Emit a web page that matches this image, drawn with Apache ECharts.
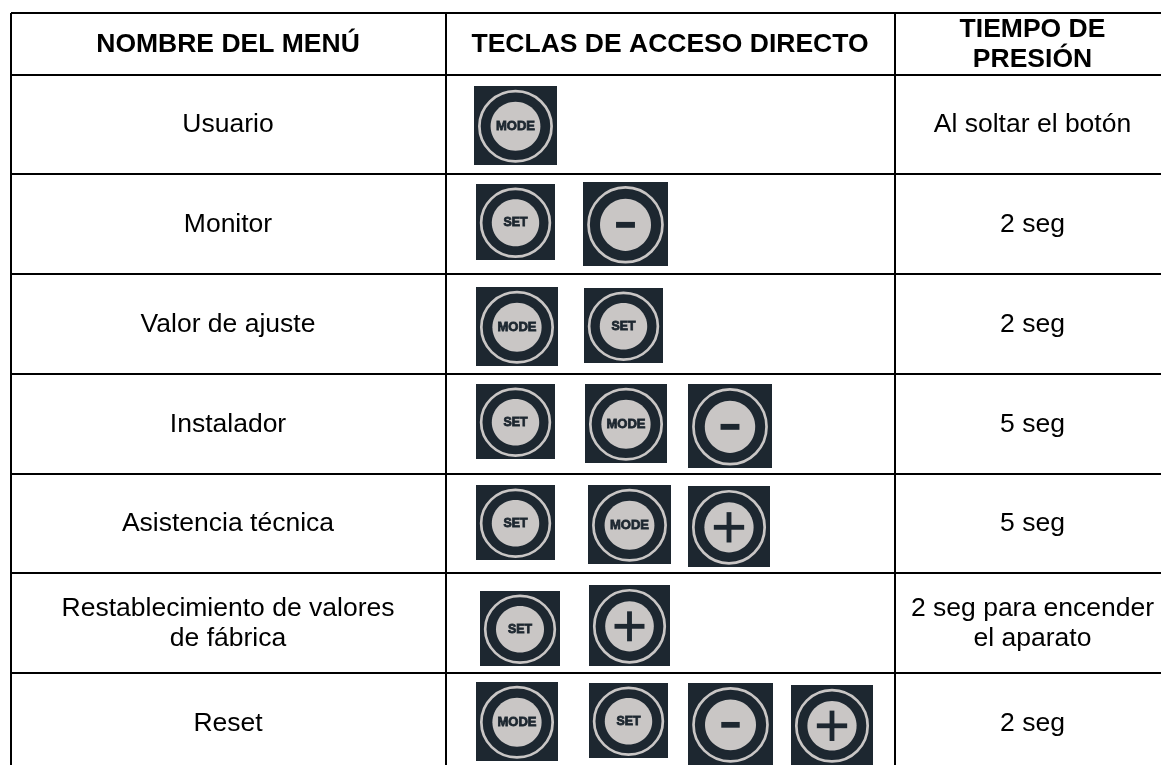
<!DOCTYPE html>
<html>
<head>
<meta charset="utf-8">
<style>html,body{margin:0;padding:0;background:#fff}#c{width:1161px;height:765px}</style>
<script src="https://cdn.jsdelivr.net/npm/echarts@6/dist/echarts.min.js"></script>
</head>
<body>
<div id="c"></div>
<script>
// ---- content ----
const headers = ['NOMBRE DEL MENÚ', 'TECLAS DE ACCESO DIRECTO', 'TIEMPO DE\nPRESIÓN'];
const menuNames = ['Usuario', 'Monitor', 'Valor de ajuste', 'Instalador', 'Asistencia técnica', 'Restablecimiento de valores\nde fábrica', 'Reset'];
const pressTimes = ['Al soltar el botón', '2 seg', '2 seg', '5 seg', '5 seg', '2 seg para encender\nel aparato', '2 seg'];
const keyCombos = [
  ['MODE'],
  ['SET', '-'],
  ['MODE', 'SET'],
  ['SET', 'MODE', '-'],
  ['SET', 'MODE', '+'],
  ['SET', '+'],
  ['MODE', 'SET', '-', '+']
];

// ---- layout (pixel scale of the axes; not data) ----
const rowLines = [13, 75, 174, 274, 374, 474, 573, 673];
const colLines = [11, 446, 895];
const colCentres = [228, 670, 1032.5];
const keyBoxes = [
  [[474, 86, 83, 79]],
  [[476, 184, 79, 76], [583, 182, 85, 84]],
  [[476, 287, 82, 79], [584, 288, 79, 75]],
  [[476, 384, 79, 75], [585, 384, 82, 79], [688, 384, 84, 84]],
  [[476, 485, 79, 75], [588, 485, 83, 79], [688, 486, 82, 81]],
  [[480, 591, 80, 75], [589, 585, 81, 81]],
  [[476, 682, 82, 79], [589, 683, 79, 75], [688, 683, 85, 82], [791, 685, 82, 80]]
];
const DARK = '#1d2730', LIGHT = '#c9c6c5', FONT = '"Liberation Sans", Arial, sans-serif';

// ---- data rows for the series ----
const textRows = [];
headers.forEach((t, c) => textRows.push([colCentres[c], (rowLines[0] + rowLines[1]) / 2, t, 'bold']));
menuNames.forEach((t, r) => textRows.push([colCentres[0], (rowLines[r + 1] + (rowLines[r + 2] || 773)) / 2, t, 'normal']));
pressTimes.forEach((t, r) => textRows.push([colCentres[2], (rowLines[r + 1] + (rowLines[r + 2] || 773)) / 2, t, 'normal']));

const keyRows = [];
keyCombos.forEach((combo, r) => combo.forEach((k, i) => keyRows.push([...keyBoxes[r][i], k])));

const ruleRows = [];
rowLines.forEach(y => ruleRows.push([11, y, 1161, y]));
colLines.forEach(x => ruleRows.push([x, 13, x, 765]));

function renderRule(p, api) {
  const a = api.coord([api.value(0), api.value(1)]);
  const b = api.coord([api.value(2), api.value(3)]);
  return { type: 'line', shape: { x1: a[0], y1: a[1], x2: b[0], y2: b[1] }, style: { stroke: '#000', lineWidth: 2 } };
}

function renderText(p, api) {
  const c = api.coord([textRows[p.dataIndex][0], textRows[p.dataIndex][1]]);
  const row = textRows[p.dataIndex];
  return {
    type: 'text', x: c[0], y: c[1] + 0.5,
    style: { text: row[2], fill: '#000', align: 'center', verticalAlign: 'middle',
      font: row[3] + ' 26.5px ' + FONT, lineHeight: 30.5 }
  };
}

function renderKey(p, api) {
  const [x, y, w, h, k] = keyRows[p.dataIndex];
  const o = api.coord([x, y]);
  const cx = o[0] + w / 2, cy = o[1] + h * 0.51;
  const children = [
    { type: 'rect', shape: { x: o[0], y: o[1], width: w, height: h }, style: { fill: DARK } },
    { type: 'ellipse', shape: { cx, cy, rx: w * 0.435, ry: h * 0.445 }, style: { fill: 'none', stroke: LIGHT, lineWidth: 2.7 } },
    { type: 'ellipse', shape: { cx, cy, rx: w * 0.30, ry: h * 0.31 }, style: { fill: LIGHT } }
  ];
  if (k === '-' || k === '+') {
    const bt = k === '+' ? h * 0.06 : h * 0.07;
    const hw = k === '+' ? w * 0.37 : h * 0.225;
    children.push({ type: 'rect', shape: { x: cx - hw / 2, y: cy - bt / 2, width: hw, height: bt }, style: { fill: DARK } });
    if (k === '+') children.push({ type: 'rect', shape: { x: cx - bt / 2, y: cy - hw / 2, width: bt, height: hw }, style: { fill: DARK } });
  } else {
    const size = k === 'MODE' ? 13 : 12.4;
    children.push({ type: 'text', x: cx, y: cy,
      style: { text: k, fill: DARK, stroke: DARK, lineWidth: 0.8, align: 'center', verticalAlign: 'middle', font: 'bold ' + size + 'px ' + FONT } });
  }
  return { type: 'group', children };
}

const hiddenAxis = { type: 'value', min: 0, show: false, splitLine: { show: false } };
const chart = echarts.init(document.getElementById('c'), null, { renderer: 'canvas' });
chart.setOption({
  animation: false,
  backgroundColor: '#fff',
  grid: { left: 0, right: 0, top: 0, bottom: 0 },
  xAxis: { ...hiddenAxis, max: 1161 },
  yAxis: { ...hiddenAxis, max: 765, inverse: true },
  series: [
    { type: 'custom', silent: true, clip: false, data: keyRows.map(r => r.slice(0, 2)), encode: { x: 0, y: 1 }, renderItem: renderKey, z: 1 },
    { type: 'custom', silent: true, clip: false, data: ruleRows, encode: { x: [0, 2], y: [1, 3] }, renderItem: renderRule, z: 2 },
    { type: 'custom', silent: true, clip: false, data: textRows.map(r => r.slice(0, 2)), encode: { x: 0, y: 1 }, renderItem: renderText, z: 3 }
  ]
});
</script>
</body>
</html>
